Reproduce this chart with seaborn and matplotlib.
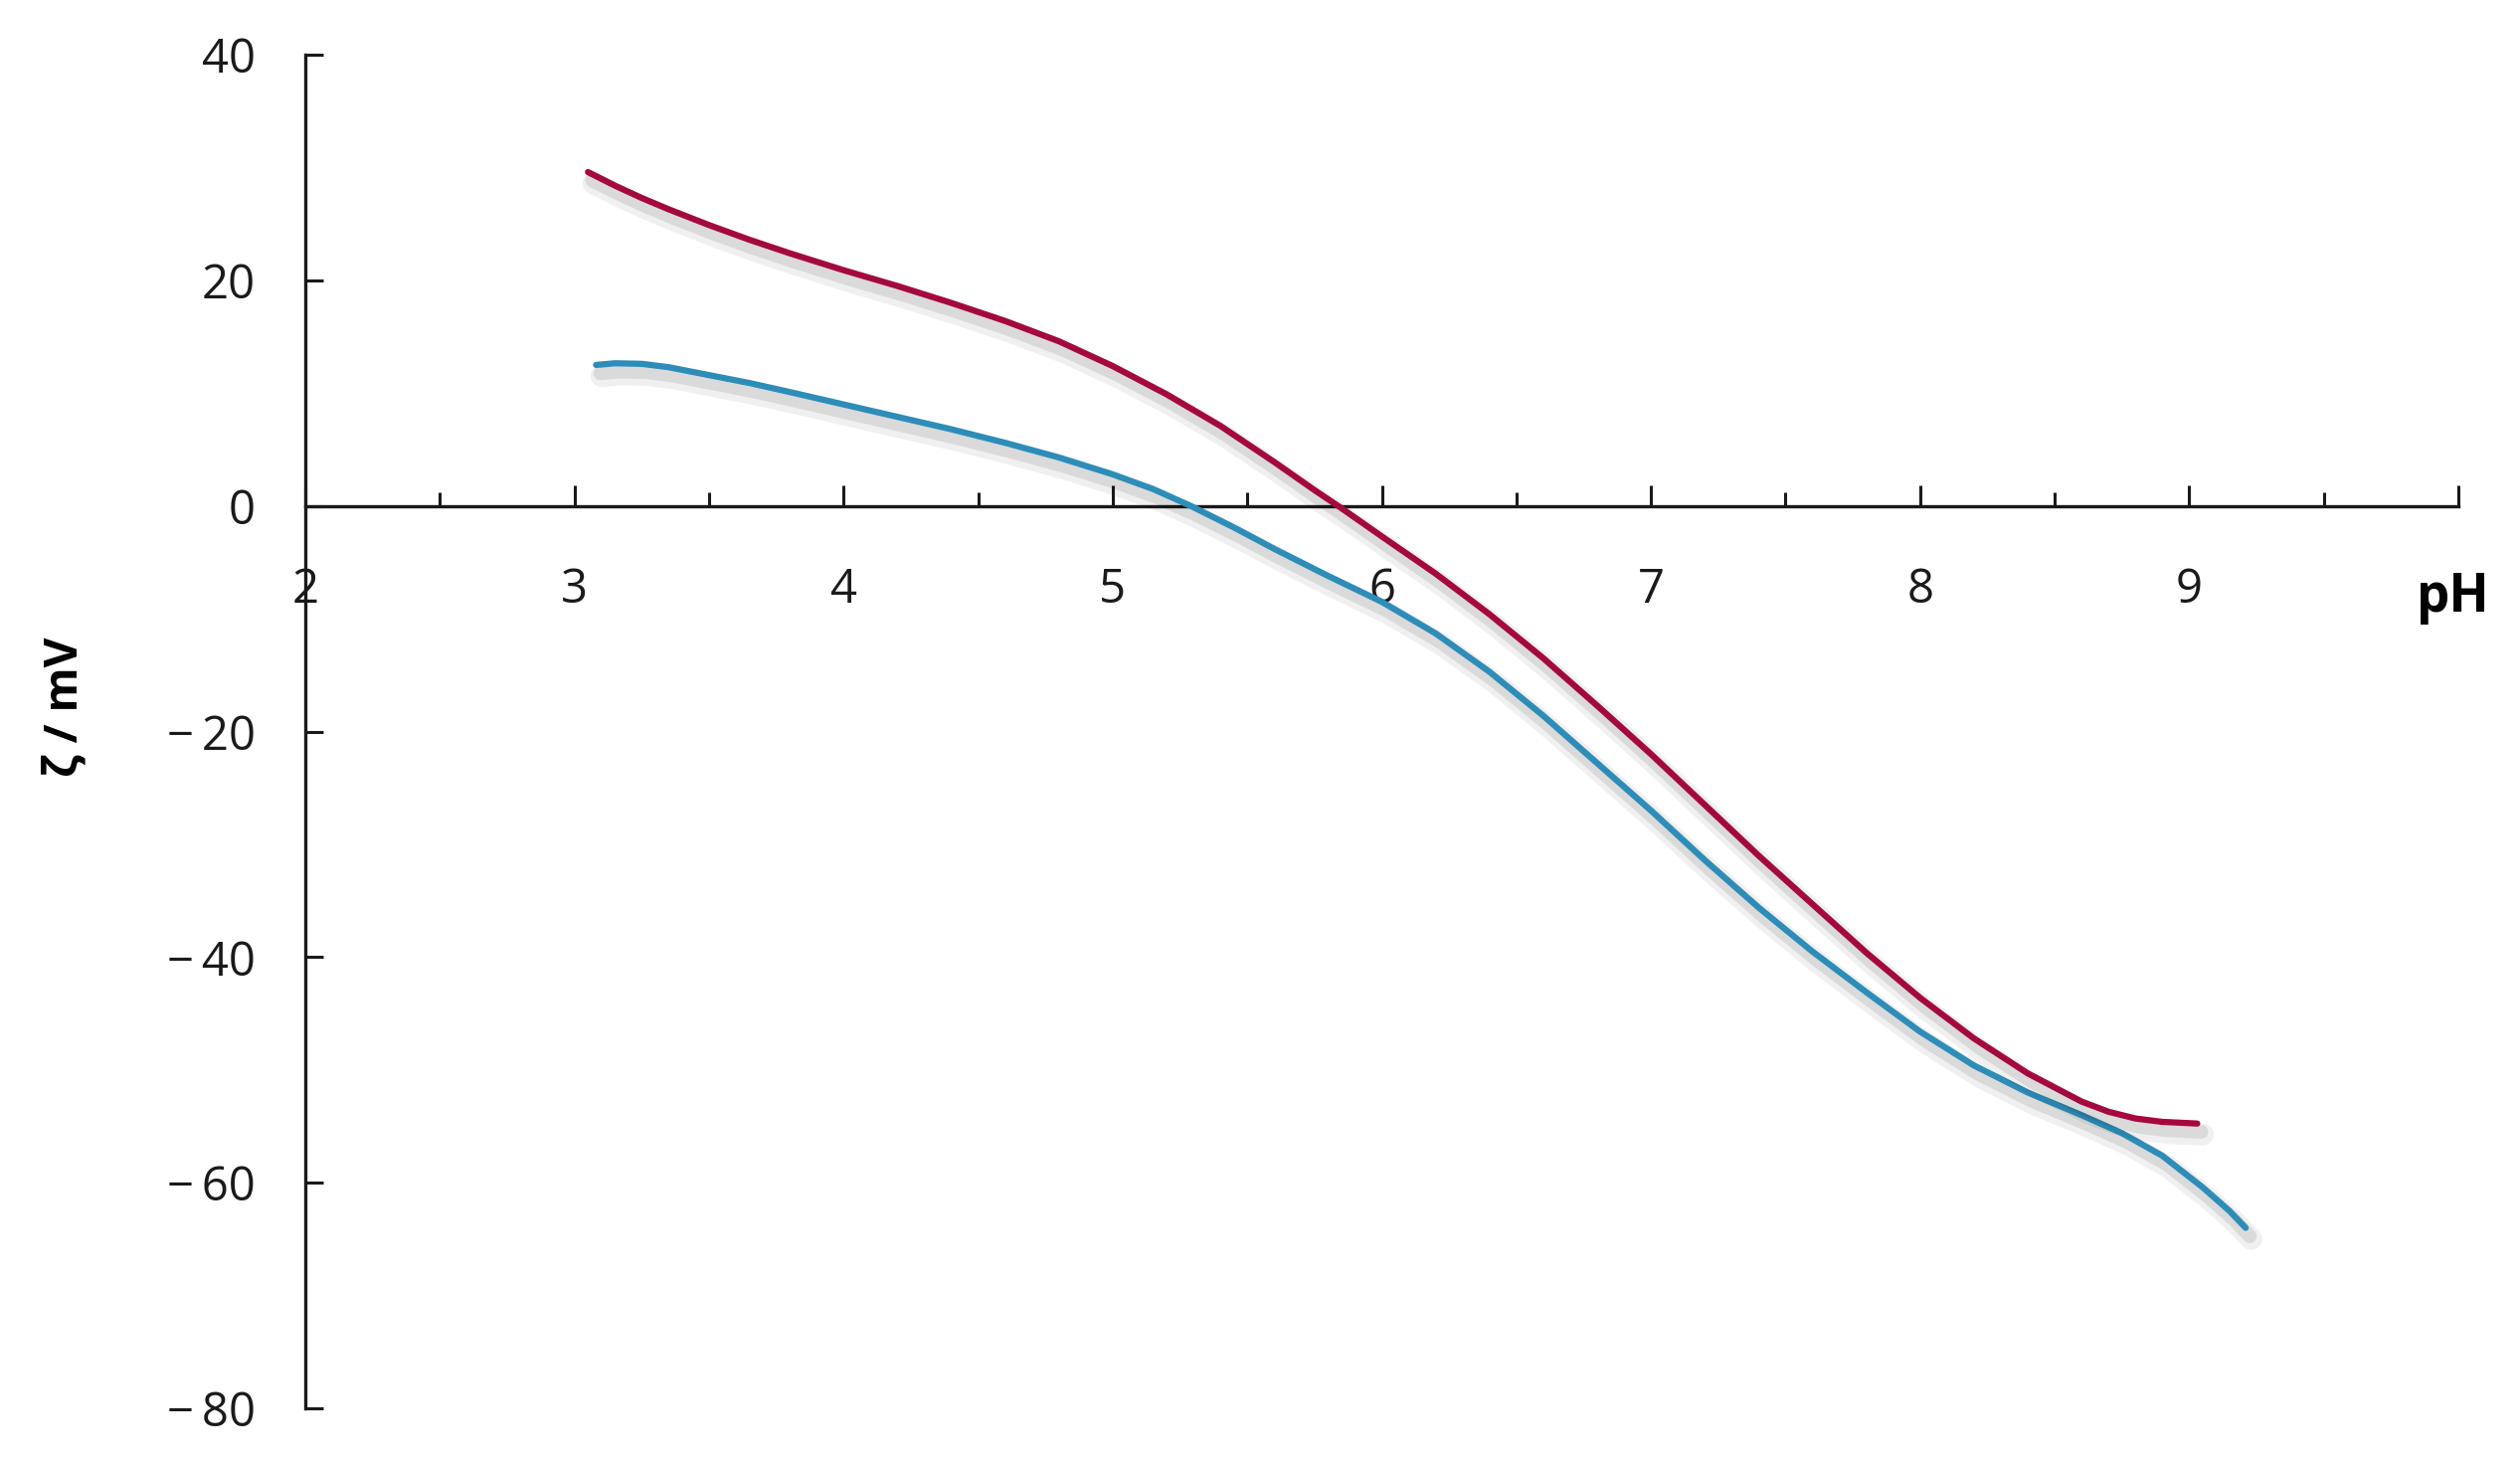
import matplotlib
matplotlib.use("Agg")
import matplotlib.pyplot as plt
import matplotlib.patheffects as pe
from matplotlib.ticker import MultipleLocator, FixedLocator
import seaborn as sns
import pandas as pd

# ---- data ----
ph_red = [3.05, 3.15, 3.25, 3.35, 3.5, 3.65, 3.8, 4.0, 4.2, 4.4, 4.6, 4.8, 5.0, 5.2, 5.4,
          5.6, 5.75, 5.85, 6.0, 6.2, 6.4, 6.6, 6.8, 7.0, 7.2, 7.4, 7.6, 7.8, 8.0, 8.2,
          8.4, 8.6, 8.7, 8.8, 8.9, 9.03]
zeta_red = [29.6, 28.4, 27.3, 26.3, 24.9, 23.6, 22.4, 20.9, 19.5, 18.0, 16.4, 14.6, 12.4, 9.9, 7.1,
            3.9, 1.4, -0.2, -2.7, -6.0, -9.6, -13.5, -17.7, -22.0, -26.5, -31.0, -35.3, -39.6, -43.6, -47.2,
            -50.3, -52.8, -53.7, -54.3, -54.6, -54.75]

ph_blue = [3.08, 3.15, 3.25, 3.35, 3.5, 3.65, 3.8, 4.0, 4.2, 4.4, 4.6, 4.8, 5.0, 5.15, 5.29,
           5.45, 5.6, 5.8, 6.0, 6.2, 6.4, 6.6, 6.8, 7.0, 7.2, 7.4, 7.6, 7.8, 8.0, 8.2,
           8.4, 8.6, 8.75, 8.9, 9.05, 9.15, 9.21]
zeta_blue = [12.5, 12.65, 12.6, 12.3, 11.6, 10.9, 10.1, 9.0, 7.9, 6.8, 5.6, 4.3, 2.8, 1.5, 0.0,
             -1.9, -3.8, -6.2, -8.5, -11.3, -14.7, -18.6, -22.8, -27.0, -31.4, -35.6, -39.5, -43.1, -46.6, -49.6,
             -52.0, -54.0, -55.6, -57.6, -60.4, -62.5, -64.0]

x_ticks = [2, 3, 4, 5, 6, 7, 8, 9, 10]
x_tick_labels = ["2", "3", "4", "5", "6", "7", "8", "9", ""]
y_ticks = [-80, -60, -40, -20, 0, 20, 40]
y_tick_labels = ["\u2212\u200980", "\u2212\u200960", "\u2212\u200940", "\u2212\u200920", "0", "20", "40"]

RED = "#A3093F"
BLUE = "#2D8DB8"

sns.set_style("white")
plt.rcParams["font.family"] = ["Open Sans", "DejaVu Sans"]

fig = plt.figure(figsize=(25.34, 14.72), dpi=100)
ax = fig.add_axes([0.1212, 0.038, 0.8543, 0.9246])

shadow = [pe.SimpleLineShadow(offset=(4, -8), shadow_color="black", alpha=0.06, linewidth=16),
          pe.SimpleLineShadow(offset=(3, -6), shadow_color="black", alpha=0.09, linewidth=10),
          pe.Normal()]

df_red = pd.DataFrame({"pH": ph_red, "zeta": zeta_red})
df_blue = pd.DataFrame({"pH": ph_blue, "zeta": zeta_blue})
sns.lineplot(data=df_blue, x="pH", y="zeta", sort=False, estimator=None, color=BLUE,
             lw=4.5, ax=ax, path_effects=shadow, solid_capstyle="round", solid_joinstyle="round")
sns.lineplot(data=df_red, x="pH", y="zeta", sort=False, estimator=None, color=RED,
             lw=4.5, ax=ax, path_effects=shadow, solid_capstyle="round", solid_joinstyle="round")

ax.set_xlim(2, 10)
ax.set_ylim(-80, 40)
ax.set_xlabel("")
ax.set_ylabel("")

for s in ["top", "right"]:
    ax.spines[s].set_visible(False)
ax.spines["bottom"].set_position(("data", 0))
for s in ["left", "bottom"]:
    ax.spines[s].set_color("#1a1a1a")
    ax.spines[s].set_linewidth(2.4)
    ax.spines[s].set_zorder(1)

ax.xaxis.set_major_locator(FixedLocator(x_ticks))
ax.set_xticklabels(x_tick_labels)
ax.xaxis.set_minor_locator(MultipleLocator(0.5))
ax.yaxis.set_major_locator(FixedLocator(y_ticks))
ax.set_yticklabels(y_tick_labels)

ax.tick_params(which="both", bottom=True, left=True, top=False, right=False)
ax.tick_params(axis="x", which="major", direction="in", length=15, width=2.2,
               color="#1a1a1a", pad=44, labelsize=34, labelcolor="#1a1a1a")
ax.tick_params(axis="x", which="minor", direction="in", length=10, width=2.2, color="#1a1a1a")
ax.tick_params(axis="y", which="major", direction="in", length=13, width=2.2,
               color="#1a1a1a", pad=36, labelsize=34, labelcolor="#1a1a1a")

fig.text(0.0257, 0.517, "\u03b6 / mV", rotation=90, ha="center", va="center",
         fontsize=33, fontweight="bold", color="black")
fig.text(0.9735, 0.592, "pH", ha="center", va="center",
         fontsize=38, fontweight="bold", color="black")

fig.savefig("out.png", dpi=100)
